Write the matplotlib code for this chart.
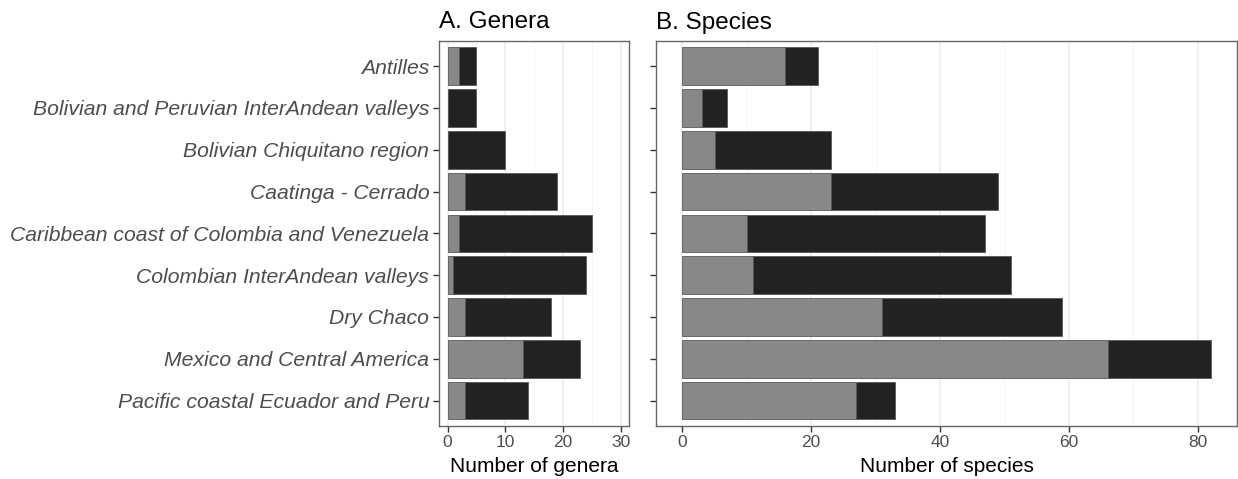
import matplotlib
matplotlib.use("Agg")
import matplotlib.pyplot as plt
import numpy as np

regions = [
    "Antilles",
    "Bolivian and Peruvian InterAndean valleys",
    "Bolivian Chiquitano region",
    "Caatinga - Cerrado",
    "Caribbean coast of Colombia and Venezuela",
    "Colombian InterAndean valleys",
    "Dry Chaco",
    "Mexico and Central America",
    "Pacific coastal Ecuador and Peru",
]

# counts per region: light segment first, dark segment stacked after it
genera_light = [2, 0, 0, 3, 2, 1, 3, 13, 3]
genera_dark = [3, 5, 10, 16, 23, 23, 15, 10, 11]
species_light = [16, 3, 5, 23, 10, 11, 31, 66, 27]
species_dark = [5, 4, 18, 26, 37, 40, 28, 16, 6]

LIGHT = "#888888"
DARK = "#222222"
EDGE = "#5a5a5a"

plt.rcParams["font.family"] = ["Liberation Sans", "DejaVu Sans"]

fig = plt.figure(figsize=(12.38, 4.79), dpi=100)
ax1 = fig.add_axes([439 / 1238, 53.3 / 479, 190.3 / 1238, 384.7 / 479])
ax2 = fig.add_axes([656 / 1238, 53.3 / 479, 581 / 1238, 384.7 / 479])

y = np.arange(len(regions))[::-1] + 1


def draw_panel(ax, light, dark, xlim, xticks, minor, title, xlabel):
    light = np.array(light)
    dark = np.array(dark)
    ax.barh(y, light, height=0.9, color=LIGHT, edgecolor=EDGE, linewidth=0.6, zorder=3)
    ax.barh(y, dark, left=light, height=0.9, color=DARK, edgecolor=EDGE, linewidth=0.6, zorder=3)
    ax.set_xlim(*xlim)
    ax.set_ylim(0.4, 9.6)
    ax.set_xticks(xticks)
    ax.set_xticks(minor, minor=True)
    ax.grid(axis="x", which="major", color="#ebebeb", linewidth=1.1, zorder=0)
    ax.grid(axis="x", which="minor", color="#f3f3f3", linewidth=0.6, zorder=0)
    ax.tick_params(axis="x", which="minor", length=0)
    ax.tick_params(axis="both", which="major", color="#333333", length=4, width=1,
                   labelcolor="#4d4d4d", labelsize=12.5, pad=3)
    for s in ax.spines.values():
        s.set_color("#666666")
        s.set_linewidth(1.0)
    ax.set_title(title, loc="left", fontsize=17.5, pad=9)
    ax.set_xlabel(xlabel, fontsize=15, labelpad=5)


draw_panel(ax1, genera_light, genera_dark, (-1.5, 31.5), [0, 10, 20, 30],
           [5, 15, 25], "A. Genera", "Number of genera")
draw_panel(ax2, species_light, species_dark, (-4.1, 86.1), [0, 20, 40, 60, 80],
           [10, 30, 50, 70], "B. Species", "Number of species")

ax1.set_yticks(y)
ax1.set_yticklabels(regions, fontsize=15.2, style="italic")
ax2.set_yticks(y)
ax2.set_yticklabels([])

fig.savefig("out.png", dpi=100)
